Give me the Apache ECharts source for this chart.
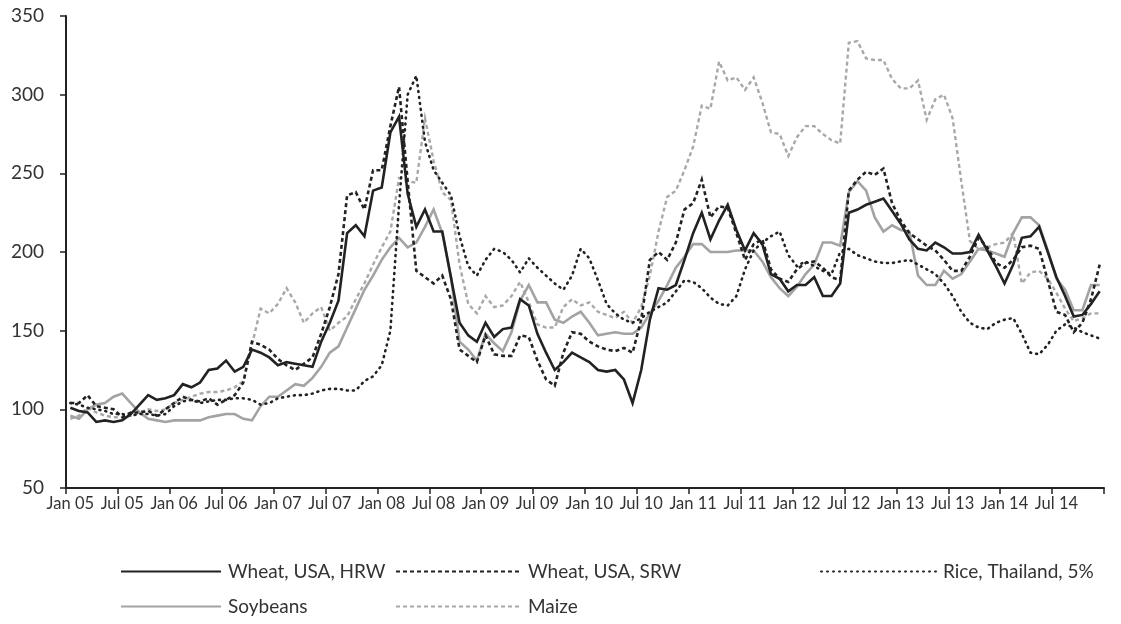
<!DOCTYPE html>
<html>
<head>
<meta charset="utf-8">
<script src="https://cdn.jsdelivr.net/npm/echarts@6.0.0/dist/echarts.min.js"></script>
<style>
html,body{margin:0;padding:0;background:#fff;}
#chart{width:1121px;height:624px;}
</style>
</head>
<body>
<div id="chart"></div>
<script>
// ---- data (monthly index, Jan 2005 - Dec 2014) ----
const monthNames = ['Jan','Feb','Mar','Apr','May','Jun','Jul','Aug','Sep','Oct','Nov','Dec'];
const yearLabels = ['05','06','07','08','09','10','11','12','13','14'];

const wheatHRW = [
101,99,98,92,93,92,93,97,103,109,
106,107,109,116,114,117,125,126,131,124,
127,138,136,133,128,130,129,128,127,143,
155,169,212,217,210,239,241,276,286,237,
216,227,213,213,184,155,147,143,155,146,
151,152,170,166,148,136,125,130,136,133,
130,125,124,125,119,104,125,157,177,176,
179,195,212,225,208,220,230,214,201,212,
205,186,183,175,179,179,184,172,172,180,
225,227,230,232,234,226,218,208,202,201,
206,203,199,199,200,211,201,191,180,192,
209,210,216,200,184,172,159,160,167,175];

const wheatSRW = [
104,104,109,102,101,100,95,98,98,99,
96,100,104,108,106,105,107,103,106,109,
117,143,141,138,132,128,125,129,133,148,
165,186,236,238,227,252,252,280,305,245,
188,184,180,185,170,138,134,130,147,135,
134,134,147,146,131,119,115,136,149,148,
143,140,138,137,139,136,157,195,200,195,
206,227,231,246,222,229,228,212,195,205,
208,189,183,181,189,193,194,190,184,182,
239,246,251,249,253,231,220,212,208,204,
201,195,188,188,197,209,203,193,190,195,
203,204,202,182,162,160,149,155,170,192];

const riceThai = [
104,103,101,100,99,97,97,96,97,97,
96,97,102,105,106,104,105,106,106,107,
107,106,103,104,107,108,109,109,110,112,
113,113,112,112,118,121,128,150,230,300,
312,270,252,244,236,210,191,185,195,202,
200,195,187,196,190,185,180,176,185,202,
196,182,167,161,157,155,158,162,165,168,
175,182,181,177,171,167,166,172,189,201,
206,210,213,198,191,194,191,188,186,200,
202,198,196,194,193,193,194,195,192,189,
186,180,172,162,155,152,151,155,157,158,
148,136,135,141,150,154,152,149,147,145];

const soybeans = [
96,94,100,103,104,108,110,104,98,94,
93,92,93,93,93,93,95,96,97,97,
94,93,102,108,108,112,116,115,120,127,
136,140,152,164,176,185,195,203,209,203,
206,216,227,212,184,143,138,131,148,142,
137,149,169,179,168,168,157,155,159,162,
155,147,148,149,148,148,152,161,169,179,
190,197,205,205,200,200,200,201,201,201,
194,184,177,172,178,186,192,206,206,204,
238,245,239,222,213,217,214,213,185,179,
179,188,183,186,194,202,201,199,197,212,
222,222,217,201,183,176,163,163,179,179];

const maize = [
94,96,101,98,96,95,95,96,98,100,
99,100,104,106,108,110,111,111,112,114,
118,141,164,161,167,177,168,155,161,165,
150,155,159,170,180,192,203,213,247,245,
244,285,258,238,233,192,167,161,172,165,
166,172,181,168,154,152,152,165,170,166,
168,162,160,158,162,155,165,185,213,235,
239,252,267,293,291,321,309,311,303,311,
295,276,275,261,273,280,280,275,271,269,
333,334,323,322,322,310,304,304,309,284,
297,300,285,245,207,202,203,205,206,212,
180,187,188,183,174,164,156,158,161,161];

const seriesNames = ['Wheat, USA, HRW','Wheat, USA, SRW','Rice, Thailand, 5%','Soybeans','Maize'];
const yTicks = {min:50, max:350, step:50};

// categories built from the month / year labels
const categories = [];
yearLabels.forEach(y => monthNames.forEach(m => categories.push(m + ' ' + y)));

const FONT = 'Lato, "Noto Sans", sans-serif';
const TXT = '#333333';

const styles = [
  {color:'#222222', width:2.6, type:'solid'},
  {color:'#222222', width:2.6, type:[4,3]},
  {color:'#222222', width:2.6, type:[1,5], cap:'round'},
  {color:'#a3a3a3', width:2.6, type:'solid'},
  {color:'#a8a8a8', width:2.4, type:[4,3]}
];
const dataSets = [wheatHRW, wheatSRW, riceThai, soybeans, maize];

const series = dataSets.map((d, i) => ({
  name: seriesNames[i],
  type: 'line',
  data: d,
  symbol: 'none',
  showSymbol: false,
  smooth: false,
  z: 10 - i,
  lineStyle: {color: styles[i].color, width: styles[i].width, type: styles[i].type, cap: styles[i].cap || 'butt', join:'miter'},
  itemStyle: {color: styles[i].color},
  emphasis: {disabled: true},
  animation: false
}));

const legendPos = [
  {left: 120, top: 562, w: 100},
  {left: 395, top: 562, w: 125},
  {left: 820, top: 562, w: 115},
  {left: 120, top: 597, w: 100},
  {left: 395, top: 597, w: 125}
];
const legends = seriesNames.map((n, i) => ({
  data: [{name: n, itemStyle: {opacity: 0}}],
  left: legendPos[i].left,
  top: legendPos[i].top,
  padding: 0,
  orient: 'horizontal',
  itemWidth: legendPos[i].w,
  itemHeight: 20,
  itemGap: 0,
  selectedMode: false,
  itemStyle: {opacity: 0},
  textStyle: {fontFamily: FONT, fontSize: 19, color: TXT, padding:[0,0,0,2]}
}));

const chart = echarts.init(document.getElementById('chart'), null, {renderer:'canvas'});
chart.setOption({
  animation: false,
  backgroundColor: '#ffffff',
  grid: {left: 66, right: 17, top: 16, bottom: 136, containLabel: false},
  legend: legends,
  xAxis: {
    type: 'category',
    data: categories,
    boundaryGap: true,
    axisLine: {show: true, lineStyle: {color: '#222', width: 2}},
    axisTick: {show: true, interval: 5, length: 6, lineStyle: {color: '#222', width: 1.5}},
    axisLabel: {interval: 5, fontFamily: FONT, fontSize: 16.5, color: TXT, margin: 7},
    splitLine: {show: false}
  },
  yAxis: {
    type: 'value',
    min: yTicks.min, max: yTicks.max, interval: yTicks.step,
    axisLine: {show: true, lineStyle: {color: '#222', width: 2}},
    axisTick: {show: true, length: 6, lineStyle: {color: '#222', width: 1.5}},
    axisLabel: {fontFamily: FONT, fontSize: 19, color: TXT, margin: 22},
    splitLine: {show: false}
  },
  series: series
});
</script>
</body>
</html>
